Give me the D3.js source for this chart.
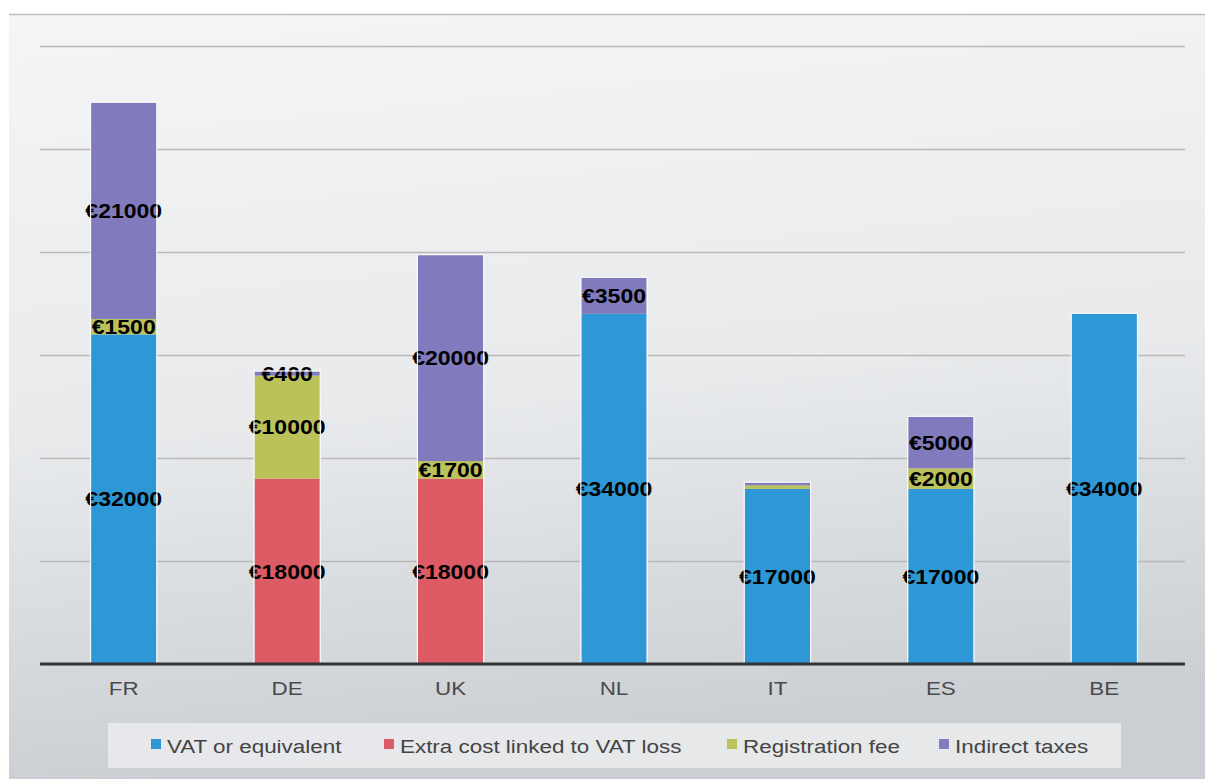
<!DOCTYPE html>
<html>
<head>
<meta charset="utf-8">
<title>Costs by country</title>
<script src="https://d3js.org/d3.v7.min.js"></script>
<style>
  body { margin: 0; background: #fff; }
  svg text { font-family: "Liberation Sans", Arial, sans-serif; }
</style>
</head>
<body>
<div id="mychart"></div>
<script>
// data
var countries = ["FR", "DE", "UK", "NL", "IT", "ES", "BE"];
var seriesNames = ["VAT or equivalent", "Extra cost linked to VAT loss", "Registration fee", "Indirect taxes"];
var vatValues = [32000, 0, 0, 34000, 17000, 17000, 34000];
var extraValues = [0, 18000, 18000, 0, 0, 0, 0];
var regValues = [1500, 10000, 1700, 0, 350, 2000, 0];
var indirectValues = [21000, 400, 20000, 3500, 250, 5000, 0];
var gridTicks = [0, 10000, 20000, 30000, 40000, 50000, 60000];

var colors = ["#2e98d6", "#dc5b64", "#bcc25a", "#817bbd"];

var width = 1205, height = 779;
var svg = d3.select("#mychart").append("svg")
    .attr("width", width)
    .attr("height", height);

var defs = svg.append("defs");
var grad = defs.append("linearGradient").attr("id", "bg")
    .attr("x1", 0).attr("y1", 0).attr("x2", 0.15).attr("y2", 1);
grad.append("stop").attr("offset", "0%").attr("stop-color", "#f4f5f6");
grad.append("stop").attr("offset", "55%").attr("stop-color", "#e8eaec");
grad.append("stop").attr("offset", "100%").attr("stop-color", "#cbcfd3");

// frame
svg.append("rect")
    .attr("x", 9).attr("y", 14)
    .attr("width", width - 9).attr("height", height - 14)
    .attr("fill", "url(#bg)");
svg.append("line")
    .attr("x1", 9).attr("x2", width).attr("y1", 14.5).attr("y2", 14.5)
    .attr("stroke", "#bcbec0").attr("stroke-width", 1.5);

var x = d3.scaleBand()
    .domain(countries)
    .range([42, 1186])
    .paddingInner(0.6)
    .paddingOuter(0.3);

var y = d3.scaleLinear()
    .domain([0, 60000])
    .range([664, 46]);

// gridlines
var grid = svg.append("g")
    .attr("transform", "translate(40,0)")
    .call(d3.axisLeft(y).tickValues(gridTicks).tickSize(-1145).tickFormat(""));
grid.select(".domain").remove();
grid.selectAll(".tick line").attr("stroke", "#b9b9b9").attr("stroke-width", 1.5);

var table = countries.map(function(c, i) {
  return {
    country: c,
    "VAT or equivalent": vatValues[i],
    "Extra cost linked to VAT loss": extraValues[i],
    "Registration fee": regValues[i],
    "Indirect taxes": indirectValues[i]
  };
});

var stack = d3.stack().keys(seriesNames);
var layers = stack(table);

var layer = svg.selectAll(".layer")
    .data(layers)
    .enter().append("g")
    .attr("class", "layer")
    .attr("fill", function(d, i) { return colors[i]; });

layer.selectAll("rect")
    .data(function(d) { return d.filter(function(s) { return s[1] - s[0] > 0; }); })
    .enter().append("rect")
    .attr("x", function(d) { return x(d.data.country); })
    .attr("width", x.bandwidth())
    .attr("y", function(d) { return y(d[1]); })
    .attr("height", function(d) { return y(d[0]) - y(d[1]); });

// thin white outline around each column
svg.selectAll(".outline")
    .data(layers[layers.length - 1])
    .enter().append("rect")
    .attr("class", "outline")
    .attr("x", function(d) { return x(d.data.country) - 0.5; })
    .attr("width", x.bandwidth() + 1)
    .attr("y", function(d) { return y(d[1]) - 0.5; })
    .attr("height", function(d) { return y(0) - y(d[1]) + 0.5; })
    .attr("fill", "none")
    .attr("stroke", "#f7f8f9")
    .attr("stroke-width", 1.2);

// value labels (the original font is a bit wider, so stretch it)
layer.selectAll("text")
    .data(function(d) { return d.filter(function(s) { return s[1] - s[0] >= 400; }); })
    .enter().append("text")
    .attr("transform", function(d) {
      var cx = x(d.data.country) + x.bandwidth() / 2;
      var cy = (y(d[0]) + y(d[1])) / 2;
      return "translate(" + cx + "," + cy + ") scale(1.15,1)";
    })
    .attr("dy", "0.36em")
    .attr("text-anchor", "middle")
    .attr("fill", "#000")
    .style("font-size", "20px")
    .style("font-weight", "bold")
    .text(function(d) { return "€" + (d[1] - d[0]); });

// x axis
var xAxis = svg.append("g")
    .attr("transform", "translate(0,664)")
    .call(d3.axisBottom(x).tickSize(0).tickPadding(18));
xAxis.select(".domain").remove();
xAxis.selectAll("text")
    .style("font-size", "19px")
    .attr("transform", "scale(1.18,1)")
    .attr("fill", "#4a4a4a");
svg.append("line")
    .attr("x1", 40).attr("x2", 1185)
    .attr("y1", y(0)).attr("y2", y(0))
    .attr("stroke", "#333")
    .attr("stroke-width", 3);

// legend
svg.append("rect")
    .attr("x", 108).attr("y", 723)
    .attr("width", 1013).attr("height", 45)
    .attr("fill", "#eceef0")
    .attr("opacity", 0.8);

var legendX = [151, 384, 727, 939];
var legend = svg.selectAll(".legend")
    .data(seriesNames)
    .enter().append("g")
    .attr("class", "legend")
    .attr("transform", function(d, i) { return "translate(" + legendX[i] + ",739)"; });

legend.append("rect")
    .attr("width", 10).attr("height", 10)
    .attr("fill", function(d, i) { return colors[i]; });

legend.append("text")
    .attr("transform", "translate(16,7) scale(1.18,1)")
    .attr("dy", "0.36em")
    .style("font-size", "19px")
    .attr("fill", "#444")
    .text(function(d) { return d; });
</script>
</body>
</html>
